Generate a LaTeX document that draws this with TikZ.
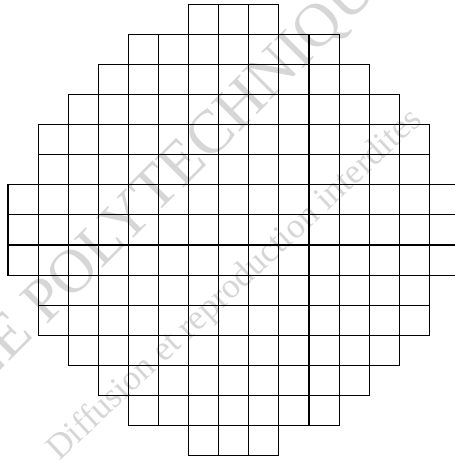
\documentclass[tikz,border=0pt]{standalone}
\usepackage{fontspec}
\setmainfont{Liberation Serif}
\begin{document}
\begin{tikzpicture}[
    x=0.6cm, y=0.6cm,
    cellbox/.style={draw=black, line width=0.6pt},
    watermark/.style={text=black!16, anchor=base},
]
\useasboundingbox (-0.266,-0.143) rectangle (14.85,15.14);
\clip (-0.266,-0.143) rectangle (14.85,15.14);

% Watermark
\node[watermark, rotate=45, font=\fontsize{35}{40}\selectfont] (school) at (4.72,7.78) {ÉCOLE POLYTECHNIQUE};
\node[watermark, rotate=43, font=\fontsize{20}{24}\selectfont] (notice) at (7.75,5.45) {Diffusion et reproduction interdites};

% Rows of cells, top to bottom: half-width of each row
\foreach \hw [count=\r from 0] in {1,3,4,5,6,6,7,7,7,6,6,5,4,3,1}
    \foreach \c in {-\hw,...,\hw}
        \draw[cellbox] (7+\c,14-\r) rectangle ++(1,1);
\end{tikzpicture}
\end{document}
